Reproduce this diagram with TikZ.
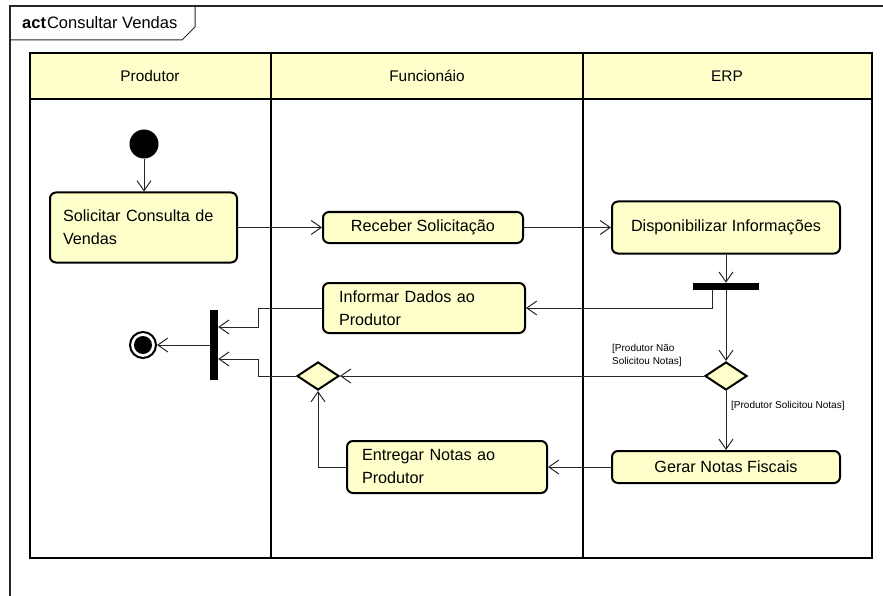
\documentclass[tikz,border=0pt]{standalone}
\usepackage{fontspec}
\setmainfont{Liberation Sans}
\usetikzlibrary{arrows.meta,shapes.geometric,calc}
\definecolor{actfill}{RGB}{255,255,204}
\tikzset{
  lane/.style={line width=2.5pt, draw=black},
  action/.style={draw, line width=2pt, rounded corners=6pt, fill=actfill,
     font=\fontsize{16.2}{23}\selectfont, inner sep=0pt},
  flow/.style={line width=1pt, draw=black!85, -{Straight Barb[length=10pt,width=14pt,line width=1pt]}},
  bar/.style={fill=black, draw=none, inner sep=0pt},
  decision/.style={diamond, draw, line width=2pt, fill=actfill, inner sep=0pt,
     minimum width=42pt, minimum height=28pt, aspect=1.5},
  guard/.style={font=\fontsize{10}{13}\selectfont, inner sep=0pt, align=left},
  lanehead/.style={font=\fontsize{15.4}{18}\selectfont, inner sep=0pt}
}
\begin{document}
\begin{tikzpicture}[x=1pt,y=-1pt]
\useasboundingbox (0,0) rectangle (883,596);
% frame
\draw[line width=1.2pt, black!85] (10,596) -- (10,6) -- (883,6);
\draw[line width=1pt, black!85] (10,40) -- (182,40) -- (195,27) -- (195,6);
\node[anchor=west, inner sep=0pt, font=\fontsize{16.5}{19}\selectfont] (title) at (22,23)
  {\textbf{act}\kern1pt Consultar Vendas};
% swimlanes
\fill[actfill] (30,53) rectangle (872,99);
\draw[lane] (30,53) rectangle (872,558);
\draw[lane] (30,99) -- (872,99);
\draw[lane] (271,53) -- (271,558);
\draw[lane] (583,53) -- (583,558);
\node[lanehead] (h1) at (150,76) {Produtor};
\node[lanehead] (h2) at (427,76) {Funcionáio};
\node[lanehead] (h3) at (727,76) {ERP};
% nodes
\node[circle, fill=black, minimum size=29pt, inner sep=0pt] (init) at (144,144) {};
\node[action, minimum width=187pt, minimum height=70pt, text width=161pt, align=left]
  (sol) at (143.5,227.5) {Solicitar Consulta de\\Vendas};
\node[action, minimum width=200pt, minimum height=31pt]
  (rec) at (423,227.5) {Receber Solicitação};
\node[action, minimum width=228pt, minimum height=52pt]
  (disp) at (726,227.5) {Disponibilizar Informações};
\node[bar, minimum width=66pt, minimum height=7pt] (fork) at (726,286.5) {};
\node[action, minimum width=202pt, minimum height=50pt, text width=170pt, align=left]
  (info) at (424,308) {Informar Dados ao\\Produtor};
\node[decision] (dec) at (726,376) {};
\node[decision] (decl) at (318,376) {};
\node[action, minimum width=228pt, minimum height=32pt]
  (gerar) at (726,467) {Gerar Notas Fiscais};
\node[action, minimum width=200pt, minimum height=52pt, text width=170pt, align=left]
  (ent) at (447,467) {Entregar Notas ao\\Produtor};
\node[bar, minimum width=8pt, minimum height=70pt] (join) at (214,345) {};
\node[circle, draw, line width=2pt, fill=white, minimum size=26pt, inner sep=0pt] (final) at (143,345) {};
\fill[black] (final.center) circle[radius=9pt];
\coordinate (j1) at (258,327);
\coordinate (j2) at (258,359);
% guards
\node[guard, anchor=north west] (g1) at (612,344) {[Produtor Não\\Solicitou Notas]};
\node[guard, anchor=west] (g2) at (731,406) {[Produtor Solicitou Notas]};
% flows
\draw[flow] (init.south) -- (init.south |- sol.north);
\draw[flow] (sol.east) -- (rec.west);
\draw[flow] (rec.east) -- (disp.west);
\draw[flow] (disp.south) -- (fork.north);
\draw[flow] ([xshift=-14pt]fork.south) |- (info.east);
\draw[flow] (fork.south) -- (dec.north);
\draw[flow] (dec.west) -- (decl.east);
\draw[flow] (dec.south) -- (gerar.north);
\draw[flow] (gerar.west) -- (ent.east);
\draw[flow] (ent.west) -| (decl.south);
\draw[flow] (info.west) -| (j1) -- (j1 -| join.east);
\draw[flow] (decl.west) -| (j2) -- (j2 -| join.east);
\draw[flow] (join.west) -- (final.east);
\end{tikzpicture}
\end{document}
